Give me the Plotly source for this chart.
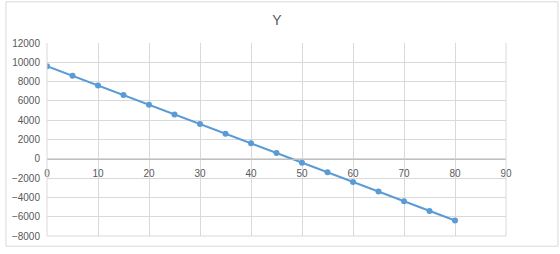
import plotly.graph_objects as go

x_vals = [0, 5, 10, 15, 20, 25, 30, 35, 40, 45, 50, 55, 60, 65, 70, 75, 80]
y_vals = [9600, 8600, 7600, 6600, 5600, 4600, 3600, 2600, 1600, 600, -400,
          -1400, -2400, -3400, -4400, -5400, -6400]
x_ticks = [0, 10, 20, 30, 40, 50, 60, 70, 80, 90]
y_ticks = [-8000, -6000, -4000, -2000, 0, 2000, 4000, 6000, 8000, 10000, 12000]
title = "Y"

W, H = 560, 254
ml, mr, mt, mb = 42, 54, 43, 12
pw, ph = W - ml - mr, H - mt - mb

fig = go.Figure(go.Scatter(
    x=x_vals, y=y_vals, mode="lines+markers",
    line=dict(color="#5b9bd5", width=2),
    marker=dict(color="#5b9bd5", size=6),
    showlegend=False,
))

font = dict(family="Liberation Sans, Arial", size=10, color="#595959")

fig.update_layout(
    width=W, height=H,
    margin=dict(l=ml, r=mr, t=mt, b=mb),
    paper_bgcolor="white", plot_bgcolor="white",
    title=dict(text=title, x=(ml + pw / 2 + 3) / W, xanchor="center",
               y=1 - 20 / H, yanchor="middle",
               font=dict(family="Liberation Sans, Arial", size=14, color="#595959")),
    xaxis=dict(range=[0, 90], tickvals=x_ticks, showgrid=True, gridcolor="#d9d9d9",
               gridwidth=1, zeroline=False, showline=True, linecolor="#bfbfbf",
               anchor="free", position=8000 / 20000, ticks="outside", ticklen=5,
               tickcolor="rgba(0,0,0,0)", tickfont=font),
    yaxis=dict(range=[-8000, 12000], tickvals=y_ticks, tickformat="d", showgrid=True,
               gridcolor="#d9d9d9", gridwidth=1, zeroline=False, showline=False,
               ticks="outside", ticklen=4, tickcolor="rgba(0,0,0,0)", tickfont=font),
    shapes=[
        dict(type="line", xref="paper", yref="paper", x0=0, x1=1, y0=0, y1=0,
             line=dict(color="#d9d9d9", width=1)),
        dict(type="line", xref="paper", yref="paper", x0=1, x1=1, y0=0, y1=1,
             line=dict(color="#d9d9d9", width=1)),
        dict(type="line", xref="paper", yref="paper", x0=0, x1=0, y0=0, y1=1,
             line=dict(color="#d9d9d9", width=1)),
        dict(type="rect", xref="paper", yref="paper",
             x0=(0.5 - ml) / pw, x1=(W - 1.5 - ml) / pw,
             y0=-(H - 1.5 - mt - ph) / ph, y1=1 + (mt - 0.5) / ph,
             line=dict(color="#d9d9d9", width=1), layer="below"),
    ],
)

fig.write_html("out.html")
